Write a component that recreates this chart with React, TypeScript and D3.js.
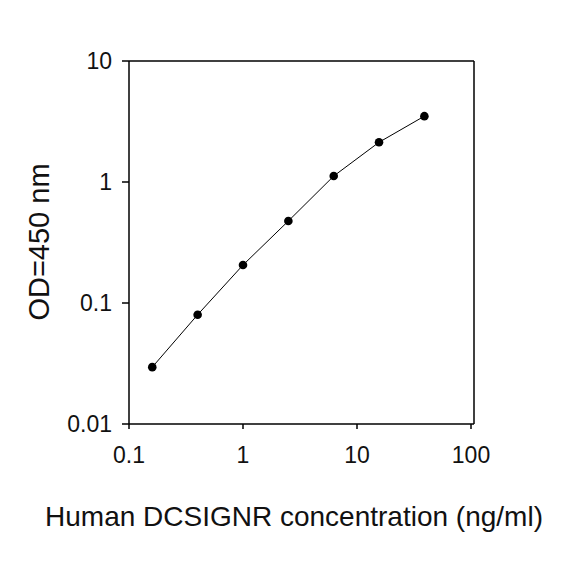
import React from 'react';
import * as d3 from 'd3';

// Standard curve: concentration (ng/ml) vs OD at 450 nm
const concentrations = [0.16, 0.4, 1, 2.5, 6.25, 15.6, 39];
const odValues = [0.0295, 0.08, 0.206, 0.476, 1.12, 2.13, 3.5];
const xTicks = [0.1, 1, 10, 100];
const yTicks = [0.01, 0.1, 1, 10];
const xTickLabels = ['0.1', '1', '10', '100'];
const yTickLabels = ['0.01', '0.1', '1', '10'];

const WIDTH = 584;
const HEIGHT = 584;
const FONT = 'Arial, "Liberation Sans", sans-serif';

const App: React.FC = () => {
  const left = 129;
  const right = 471;
  const top = 61;
  const bottom = 424;
  const frameRight = 474;

  const xScale = d3.scaleLog().domain([0.1, 100]).range([left, right]);
  const yScale = d3.scaleLog().domain([0.01, 10]).range([bottom, top]);

  const points = concentrations.map((c, i) => [c, odValues[i]] as [number, number]);
  const line = d3.line<[number, number]>()
    .x(d => xScale(d[0]))
    .y(d => yScale(d[1]));

  return (
    <svg width={WIDTH} height={HEIGHT} style={{ position: 'absolute', left: 0, top: 0, background: '#fff' }}>
      <rect x={0} y={0} width={WIDTH} height={HEIGHT} fill="#fff" />

      {/* frame */}
      <line x1={left} y1={top} x2={frameRight} y2={top} stroke="#000" strokeWidth={1.5} />
      <line x1={frameRight} y1={top} x2={frameRight} y2={bottom} stroke="#000" strokeWidth={1.5} />
      <line x1={left} y1={top} x2={left} y2={bottom} stroke="#000" strokeWidth={1.5} />
      <line x1={left} y1={bottom} x2={frameRight} y2={bottom} stroke="#000" strokeWidth={1.5} />

      {/* y axis ticks */}
      {yTicks.map((t, i) => (
        <g key={`y${t}`}>
          <line x1={left - 7} x2={left} y1={yScale(t)} y2={yScale(t)} stroke="#000" strokeWidth={1.5} />
          <text
            x={112}
            y={yScale(t)}
            dy="0.36em"
            textAnchor="end"
            fontFamily={FONT}
            fontSize={23}
            fill="#111"
          >
            {yTickLabels[i]}
          </text>
        </g>
      ))}

      {/* x axis ticks */}
      {xTicks.map((t, i) => (
        <g key={`x${t}`}>
          <line x1={xScale(t)} x2={xScale(t)} y1={bottom} y2={bottom + 5} stroke="#000" strokeWidth={1.5} />
          <text
            x={xScale(t)}
            y={463}
            textAnchor="middle"
            fontFamily={FONT}
            fontSize={23}
            fill="#111"
          >
            {xTickLabels[i]}
          </text>
        </g>
      ))}

      {/* curve */}
      <path d={line(points) || ''} fill="none" stroke="#000" strokeWidth={1} />
      {points.map((p, i) => (
        <circle key={i} cx={xScale(p[0])} cy={yScale(p[1])} r={4.3} fill="#000" />
      ))}

      {/* axis titles */}
      <text
        transform={`translate(49,242) rotate(-90)`}
        textAnchor="middle"
        fontFamily={FONT}
        fontSize={29}
        fill="#111"
      >
        OD=450 nm
      </text>
      <text
        x={294}
        y={526}
        textAnchor="middle"
        fontFamily={FONT}
        fontSize={28}
        fill="#111"
      >
        Human DCSIGNR concentration (ng/ml)
      </text>
    </svg>
  );
};

export default App;
